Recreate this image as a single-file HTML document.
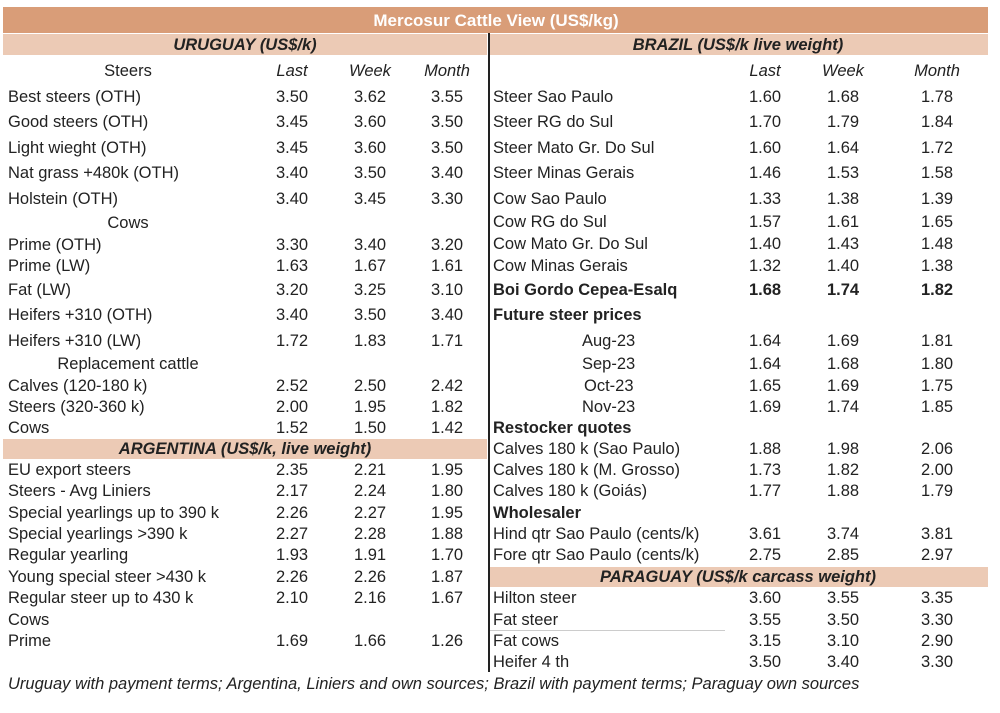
<!DOCTYPE html>
<html><head><meta charset="utf-8"><style>
body{margin:0;width:1000px;height:713px;background:#fff;position:relative;overflow:hidden;font-family:"Liberation Sans",Arial,sans-serif;font-size:16.5px;color:#222}
.t{position:absolute;white-space:nowrap;line-height:18px}
.c{transform:translateX(-50%)}
.i{font-style:italic}
.b{font-weight:bold}
.band{position:absolute}
</style></head><body>
<div class="band" style="left:3px;top:7px;width:985px;height:26px;background:#d99d78"></div>
<div class="t b c" style="left:496px;top:12px;color:#fff;font-size:17px">Mercosur Cattle View (US$/kg)</div>
<div class="band" style="left:3px;top:34px;width:484px;height:21px;background:#eccab5"></div>
<div class="band" style="left:490px;top:34px;width:498px;height:21px;background:#eccab5"></div>
<div class="band" style="left:3px;top:439px;width:484px;height:20px;background:#eccab5"></div>
<div class="band" style="left:490px;top:567px;width:498px;height:20px;background:#eccab5"></div>
<div class="band" style="left:488px;top:33px;width:2px;height:639px;background:#222"></div>
<div class="band" style="left:490px;top:630px;width:235px;height:1px;background:#ccc"></div>
<div id="c"></div>
<script>
var out='';
function T(x,y,s,cls){out+='<div class="t '+(cls||'')+'" style="left:'+x+'px;top:'+(y-9)+'px">'+s+'</div>';}
function R(y,l,a,b,c,cls){T(8,y,l,cls);if(a){T(292,y,a,'c '+(cls||''));T(370,y,b,'c '+(cls||''));T(447,y,c,'c '+(cls||''));}}
function Q(y,l,a,b,c,cls,lx){T(lx||493,y,l,cls);if(a){T(765,y,a,'c '+(cls||''));T(843,y,b,'c '+(cls||''));T(937,y,c,'c '+(cls||''));}}
T(245,45,'URUGUAY (US$/k)','c i b');
T(128,71,'Steers','c');T(292,71,'Last','c i');T(370,71,'Week','c i');T(447,71,'Month','c i');
R(97,'Best steers (OTH)','3.50','3.62','3.55');
R(122,'Good steers (OTH)','3.45','3.60','3.50');
R(148,'Light wieght (OTH)','3.45','3.60','3.50');
R(173,'Nat grass +480k (OTH)','3.40','3.50','3.40');
R(199,'Holstein (OTH)','3.40','3.45','3.30');
T(128,223,'Cows','c');
R(245,'Prime (OTH)','3.30','3.40','3.20');
R(266,'Prime (LW)','1.63','1.67','1.61');
R(290,'Fat (LW)','3.20','3.25','3.10');
R(315,'Heifers +310 (OTH)','3.40','3.50','3.40');
R(341,'Heifers +310 (LW)','1.72','1.83','1.71');
T(128,364,'Replacement cattle','c');
R(386,'Calves (120-180 k)','2.52','2.50','2.42');
R(407,'Steers (320-360 k)','2.00','1.95','1.82');
R(428,'Cows','1.52','1.50','1.42');
T(245,449,'ARGENTINA (US$/k, live weight)','c i b');
R(470,'EU export steers','2.35','2.21','1.95');
R(491,'Steers - Avg Liniers','2.17','2.24','1.80');
R(513,'Special yearlings up to 390 k','2.26','2.27','1.95');
R(534,'Special yearlings &gt;390 k','2.27','2.28','1.88');
R(555,'Regular yearling','1.93','1.91','1.70');
R(577,'Young special steer &gt;430 k','2.26','2.26','1.87');
R(598,'Regular steer up to 430 k','2.10','2.16','1.67');
R(620,'Cows');
R(641,'Prime','1.69','1.66','1.26');
T(738,45,'BRAZIL  (US$/k live weight)','c i b');
T(765,71,'Last','c i');T(843,71,'Week','c i');T(937,71,'Month','c i');
Q(97,'Steer Sao Paulo','1.60','1.68','1.78');
Q(122,'Steer RG do Sul','1.70','1.79','1.84');
Q(148,'Steer Mato Gr. Do Sul','1.60','1.64','1.72');
Q(173,'Steer Minas Gerais','1.46','1.53','1.58');
Q(199,'Cow Sao Paulo','1.33','1.38','1.39');
Q(222,'Cow RG do Sul','1.57','1.61','1.65');
Q(244,'Cow Mato Gr. Do Sul','1.40','1.43','1.48');
Q(266,'Cow Minas Gerais','1.32','1.40','1.38');
Q(290,'Boi Gordo Cepea-Esalq','1.68','1.74','1.82','b');
Q(315,'Future steer prices',0,0,0,'b');
Q(341,'Aug-23','1.64','1.69','1.81','',582);
Q(364,'Sep-23','1.64','1.68','1.80','',582);
Q(386,'Oct-23','1.65','1.69','1.75','',584);
Q(407,'Nov-23','1.69','1.74','1.85','',582);
Q(428,'Restocker quotes',0,0,0,'b');
Q(449,'Calves 180 k (Sao Paulo)','1.88','1.98','2.06');
Q(470,'Calves 180 k (M. Grosso)','1.73','1.82','2.00');
Q(491,'Calves 180 k (Goiás)','1.77','1.88','1.79');
Q(513,'Wholesaler',0,0,0,'b');
Q(534,'Hind qtr Sao Paulo (cents/k)','3.61','3.74','3.81');
Q(555,'Fore qtr Sao Paulo (cents/k)','2.75','2.85','2.97');
T(738,577,'PARAGUAY  (US$/k carcass weight)','c i b');
Q(598,'Hilton steer','3.60','3.55','3.35');
Q(620,'Fat steer','3.55','3.50','3.30');
Q(641,'Fat cows','3.15','3.10','2.90');
Q(662,'Heifer 4 th','3.50','3.40','3.30');
T(8,684,'Uruguay with payment terms; Argentina, Liniers and own sources; Brazil with payment terms; Paraguay own sources','i');
document.getElementById('c').innerHTML=out;
</script>
</body></html>
